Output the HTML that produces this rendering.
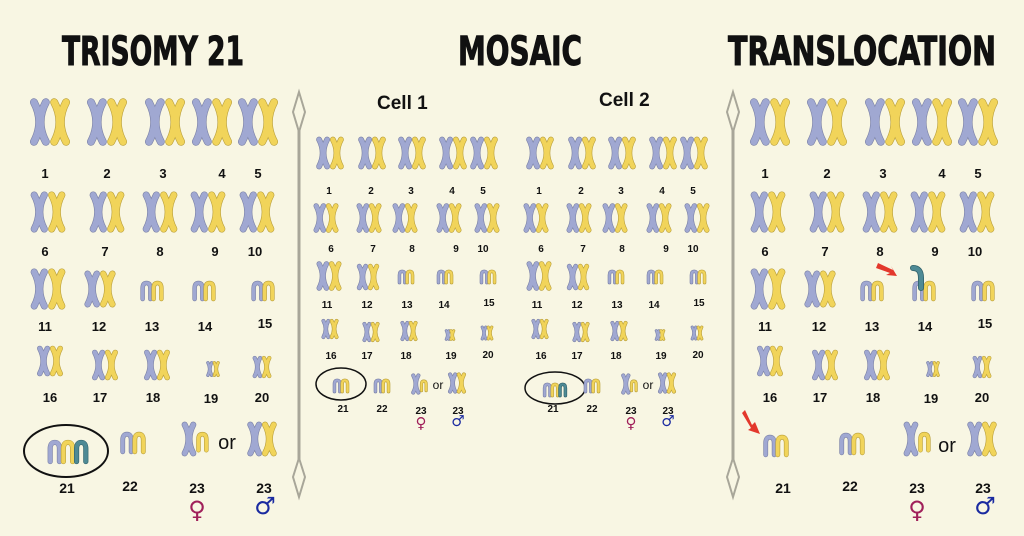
<!DOCTYPE html>
<html><head><meta charset="utf-8">
<style>
html,body{margin:0;padding:0;background:#f8f6e3;}
svg{display:block;}
text{font-family:"Liberation Sans",sans-serif;font-weight:bold;fill:#111;}
</style></head>
<body>
<svg id="s" width="1024" height="536" viewBox="0 0 1024 536" xmlns="http://www.w3.org/2000/svg">
<rect width="1024" height="536" fill="#f8f6e3"/>
<text x="62" y="65" font-size="40" textLength="182" lengthAdjust="spacingAndGlyphs" stroke="#111" stroke-width="1" style="font-family:'DejaVu Sans Condensed','Liberation Sans Narrow','Liberation Sans',sans-serif">TRISOMY 21</text>
<text x="458" y="65" font-size="40" textLength="124" lengthAdjust="spacingAndGlyphs" stroke="#111" stroke-width="1" style="font-family:'DejaVu Sans Condensed','Liberation Sans Narrow','Liberation Sans',sans-serif">MOSAIC</text>
<text x="728" y="65" font-size="40" textLength="268" lengthAdjust="spacingAndGlyphs" stroke="#111" stroke-width="1" style="font-family:'DejaVu Sans Condensed','Liberation Sans Narrow','Liberation Sans',sans-serif">TRANSLOCATION</text>
<text x="377" y="109" font-size="19">Cell 1</text>
<text x="599" y="106" font-size="19">Cell 2</text>
<g id="g"></g>
</svg>
<script>
var g=document.getElementById('g'),h='';
var B='#a0a8d2',BO='#7a80a5',Y='#f1d45a',YO='#b89e3a',T='#4e8a95',TO='#2f5f68';
function chrom(x,y,w,hh,c,o){var sw=Math.max(2,w*0.32);var d='M'+(x-w*0.28)+','+(y-hh/2+sw/2)+' Q'+(x+w*0.22)+','+y+' '+(x-w*0.28)+','+(y+hh/2-sw/2)+' M'+(x+w*0.28)+','+(y-hh/2+sw/2)+' Q'+(x-w*0.22)+','+y+' '+(x+w*0.28)+','+(y+hh/2-sw/2);
h+='<path d="'+d+'" fill="none" stroke="'+o+'" stroke-width="'+(sw+1.2)+'" stroke-linecap="round"/><path d="'+d+'" fill="none" stroke="'+c+'" stroke-width="'+sw+'" stroke-linecap="round"/>';}
function X(cx,cy,s){chrom(cx-s*0.23,cy,s*0.48,s*1.05,B,BO);chrom(cx+s*0.23,cy,s*0.48,s*1.05,Y,YO);}
function arch(x,y,w,hh,c,o){var sw=Math.max(2,w*0.3);var d='M'+(x-w/2+sw/2)+','+(y+hh/2)+' L'+(x-w/2+sw/2)+','+(y-hh/6)+' Q'+(x-w/2+sw/2)+','+(y-hh/2)+' '+x+','+(y-hh/2)+' Q'+(x+w/2-sw/2)+','+(y-hh/2)+' '+(x+w/2-sw/2)+','+(y-hh/6)+' L'+(x+w/2-sw/2)+','+(y+hh/2);
h+='<path d="'+d+'" fill="none" stroke="'+o+'" stroke-width="'+(sw+1.2)+'" stroke-linecap="round"/><path d="'+d+'" fill="none" stroke="'+c+'" stroke-width="'+sw+'" stroke-linecap="round"/>';}
function N(cx,cy,s,n,teal){var w=s*0.55,hh=s*0.8;if(n==3){arch(cx-w,cy,w,hh,B,BO);arch(cx,cy,w,hh,Y,YO);arch(cx+w,cy,w,hh,teal?T:B,teal?TO:BO);}else{arch(cx-w*0.5,cy,w,hh,B,BO);arch(cx+w*0.5,cy,w,hh,Y,YO);}}
function lab(x,y,t,fs){h+='<text x="'+x+'" y="'+y+'" font-size="'+fs+'" text-anchor="middle">'+t+'</text>';}
function female(x,y,fs){h+='<text x="'+x+'" y="'+y+'" font-size="'+fs+'" text-anchor="middle" style="fill:#a0205a;font-family:\'DejaVu Sans\',sans-serif">♀</text>';}
function male(x,y,fs){h+='<text x="'+x+'" y="'+y+'" font-size="'+fs+'" text-anchor="middle" style="fill:#1a2aa0;font-family:\'DejaVu Sans\',sans-serif">♂</text>';}
function sex(cx,cy,s){chrom(cx-s*0.22,cy,s*0.48,s*1.05,B,BO);arch(cx+s*0.2,cy+s*0.1,s*0.35,s*0.5,Y,YO);}
function big(ox){
 var r1=[[50,45],[107,107],[165,163],[212,222],[258,258]];
 r1.forEach(function(c,i){X(c[0]+ox,122,44);lab(c[1]+ox,178,i+1,13);});
 var r2=[[48,45],[107,105],[160,160],[208,215],[257,255]];
 r2.forEach(function(c,i){X(c[0]+ox,212,38);lab(c[1]+ox,256,i+6,13);});
 X(48+ox,289,38);lab(45+ox,331,11,13);X(100+ox,289,34);lab(99+ox,331,12,13);
 N(152+ox,291,20,2);lab(152+ox,331,13,13);
 N(204+ox,291,20,2);lab(205+ox,331,14,13);
 N(263+ox,291,20,2);lab(265+ox,328,15,13);
 X(50+ox,361,28);lab(50+ox,402,16,13);X(105+ox,365,28);lab(100+ox,402,17,13);X(157+ox,365,28);lab(153+ox,402,18,13);
 X(213+ox,369,14);lab(211+ox,403,19,13);X(262+ox,367,20);lab(262+ox,402,20,13);
}
big(0);
h+='<ellipse cx="66" cy="451" rx="42" ry="26" fill="none" stroke="#111" stroke-width="2"/>';
N(68,452,24,3,true);lab(67,493,21,14);
N(133,443,22,2);lab(130,491,22,14);
sex(196,439,32);h+='<text x="227" y="449" font-size="20" text-anchor="middle" style="font-weight:normal">or</text>';X(262,439,32);
lab(197,493,23,14);lab(264,493,23,14);female(197,518,24);male(265,514,24);
big(720);
h+='<path d="M921,288 L921,278 Q921,268 913,268" fill="none" stroke="'+TO+'" stroke-width="6" stroke-linecap="round"/><path d="M921,288 L921,278 Q921,268 913,268" fill="none" stroke="'+T+'" stroke-width="4.5" stroke-linecap="round"/>';
h+='<path d="M878,263 L893,270 L891,266 L897,276 L886,275 L890,273 L876,268Z" fill="#e3382c"/>';
h+='<path d="M745,410 L752,425 L755,422 L760,434 L748,430 L751,428 L742,413Z" fill="#e3382c"/>';
N(776,446,22,2);lab(783,493,21,14);
N(852,444,22,2);lab(850,491,22,14);
sex(918,439,32);h+='<text x="947" y="452" font-size="20" text-anchor="middle" style="font-weight:normal">or</text>';X(982,439,32);
lab(917,493,23,14);lab(983,493,23,14);female(917,518,24);male(985,514,24);
function cell(ox,c2){
 var r1=[330,372,412,453,484];
 r1.forEach(function(x,i){X(x+ox,153,30);lab(x+ox-1,194,i+1,10);});
 var r2=[[326,331],[369,373],[405,412],[449,456],[487,483]];
 r2.forEach(function(c,i){X(c[0]+ox,218,27);lab(c[1]+ox,252,i+6,10);});
 X(329+ox,276,27);lab(327+ox,308,11,10);X(368+ox,277,24);lab(367+ox,308,12,10);
 N(406+ox,277,14,2);lab(407+ox,308,13,10);N(445+ox,277,14,2);lab(444+ox,308,14,10);N(488+ox,277,14,2);lab(489+ox,306,15,10);
 X(330+ox,329,18);lab(331+ox,359,16,10);X(371+ox,332,18);lab(367+ox,359,17,10);X(409+ox,331,18);lab(406+ox,359,18,10);
 X(450+ox,335,10);lab(451+ox,359,19,10);X(487+ox,333,13);lab(488+ox,358,20,10);
 h+='<ellipse cx="'+(341+ox+(c2?4:0))+'" cy="'+(384+(c2?4:0))+'" rx="'+(c2?30:25)+'" ry="16" fill="none" stroke="#111" stroke-width="1.5"/>';
 N(341+ox+(c2?4:0),386+(c2?4:0),14,c2?3:2,c2);lab(343+ox,412,21,10);
 N(382+ox,386,14,2);lab(382+ox,412,22,10);
 sex(420+ox,384,19);h+='<text x="'+(438+ox)+'" y="389" font-size="12" text-anchor="middle" style="font-weight:normal">or</text>';X(457+ox,383,19);
 lab(421+ox,414,23,10);lab(458+ox,414,23,10);female(421+ox,428,15);male(458+ox,426,15);
}
cell(0,false);cell(210,true);
function div(x){h+='<rect x="'+(x-1.5)+'" y="110" width="3" height="370" fill="#a8a699"/>';
 h+='<path d="M'+x+',92 L'+(x+6)+',112 L'+x+',132 L'+(x-6)+',112Z" fill="#f8f6e3" stroke="#a8a699" stroke-width="2"/>';
 h+='<path d="M'+x+',458 L'+(x+6)+',477 L'+x+',497 L'+(x-6)+',477Z" fill="#f8f6e3" stroke="#a8a699" stroke-width="2"/>';}
div(299);div(733);
g.innerHTML=h;
</script>
</body></html>
